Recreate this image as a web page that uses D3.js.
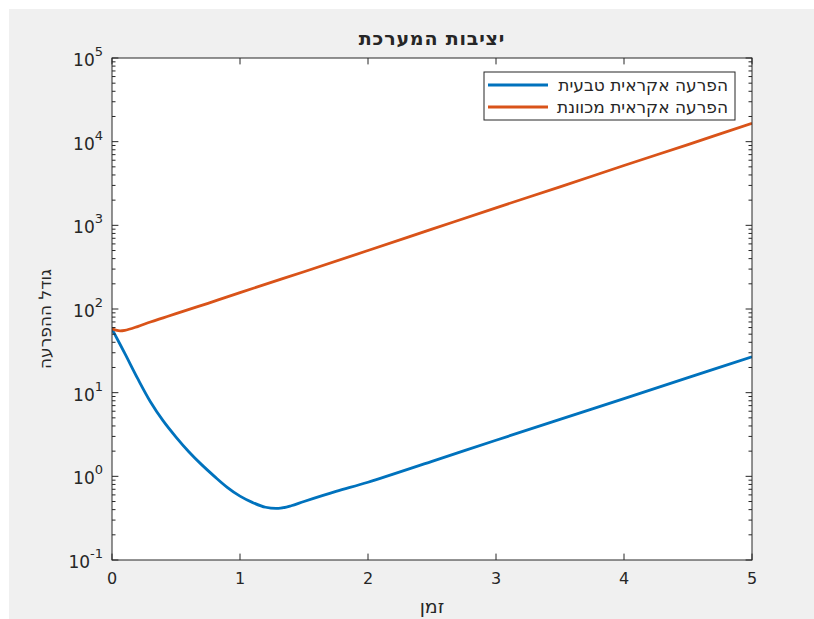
<!DOCTYPE html>
<html>
<head>
<meta charset="utf-8">
<script src="https://cdn.jsdelivr.net/npm/d3@7"></script>
<style>
  body { margin: 0; background: #fff; }
  svg text { font-family: "DejaVu Sans", sans-serif; fill: #262626; }
</style>
</head>
<body>
<script>
// Chart data
var timeBlue  = [0, 0.1, 0.2, 0.3, 0.4, 0.5, 0.6, 0.7, 0.8, 0.9, 1.0, 1.1, 1.2, 1.3, 1.4, 1.5, 1.75, 2.0, 2.5, 3.0, 3.5, 4.0, 4.5, 5.0];
var valsBlue  = [57.5, 29.5, 14.8, 7.8, 4.6, 2.95, 1.97, 1.38, 1.0, 0.74, 0.58, 0.485, 0.427, 0.414, 0.445, 0.5, 0.66, 0.85, 1.51, 2.7, 4.8, 8.5, 15.1, 26.9];
var timeOrange = [0, 0.05, 0.1, 0.2, 0.3, 0.4, 0.5, 0.75, 1.0, 1.5, 2.0, 2.5, 3.0, 3.5, 4.0, 4.5, 5.0];
var valsOrange = [58, 55, 55.6, 61.7, 70, 78.5, 88, 117, 157, 279, 500, 900, 1620, 2880, 5190, 9230, 16600];

var xTicks = [0, 1, 2, 3, 4, 5];
var yExponents = [-1, 0, 1, 2, 3, 4, 5];

var legendNames = ["הפרעה אקראית טבעית", "הפרעה אקראית מכוונת"];
var colors = ["#0072BD", "#D95319"];
var titleText = "יציבות המערכת";
var xLabel = "זמן";
var yLabel = "גודל ההפרעה";

// Chart stuff
var width = 814,
    height = 619;
// plot box (don't call these top/left, window.top is read only)
var pL = 112, pR = 752, pT = 58, pB = 560;

var svg = d3.select("body").append("svg")
    .attr("width", width)
    .attr("height", height);

svg.append("rect")
    .attr("x", 9).attr("y", 9)
    .attr("width", width - 9).attr("height", height - 9)
    .attr("fill", "#f0f0f0");

var x = d3.scaleLinear().domain([0, 5]).range([pL, pR]);
var y = d3.scaleLog().domain([0.1, 1e5]).range([pB, pT]);

// Axes box
svg.append("rect")
    .attr("x", pL).attr("y", pT)
    .attr("width", pR - pL).attr("height", pB - pT)
    .attr("fill", "#fff");

svg.append("clipPath").attr("id", "plotclip")
    .append("rect")
    .attr("x", pL).attr("y", pT)
    .attr("width", pR - pL).attr("height", pB - pT);

// Lines
var line = d3.line()
    .x(function(d) { return x(d[0]); })
    .y(function(d) { return y(d[1]); })
    .curve(d3.curveCatmullRom.alpha(0.5));

var series = [
    d3.zip(timeBlue, valsBlue),
    d3.zip(timeOrange, valsOrange)
];

svg.append("g").attr("clip-path", "url(#plotclip)")
    .selectAll("path")
    .data(series)
  .enter().append("path")
    .attr("d", line)
    .attr("fill", "none")
    .attr("stroke", function(d, i) { return colors[i]; })
    .attr("stroke-width", 2.8)
    .attr("stroke-linejoin", "round");

// Ticks (inward, on all four sides like matlab's box on)
var tickG = svg.append("g").attr("stroke", "#262626").attr("stroke-width", 1);
var majorLen = 6.4, minorLen = 3.5;

xTicks.forEach(function(t) {
    tickG.append("line").attr("x1", x(t)).attr("x2", x(t)).attr("y1", pB).attr("y2", pB - majorLen);
    tickG.append("line").attr("x1", x(t)).attr("x2", x(t)).attr("y1", pT).attr("y2", pT + majorLen);
});

yExponents.forEach(function(e) {
    var v = Math.pow(10, e);
    tickG.append("line").attr("x1", pL).attr("x2", pL + majorLen).attr("y1", y(v)).attr("y2", y(v));
    tickG.append("line").attr("x1", pR).attr("x2", pR - majorLen).attr("y1", y(v)).attr("y2", y(v));
    if (e < 5) {
        for (var m = 2; m <= 9; m++) {
            var yy = y(m * v);
            tickG.append("line").attr("x1", pL).attr("x2", pL + minorLen).attr("y1", yy).attr("y2", yy);
            tickG.append("line").attr("x1", pR).attr("x2", pR - minorLen).attr("y1", yy).attr("y2", yy);
        }
    }
});

svg.append("rect")
    .attr("x", pL).attr("y", pT)
    .attr("width", pR - pL).attr("height", pB - pT)
    .attr("fill", "none")
    .attr("stroke", "#262626")
    .attr("stroke-width", 1);

// Tick labels
svg.append("g").selectAll("text")
    .data(xTicks)
  .enter().append("text")
    .attr("x", function(d) { return x(d); })
    .attr("y", pB + 24)
    .attr("text-anchor", "middle")
    .style("font-size", "16px")
    .text(function(d) { return d; });

var yl = svg.append("g").selectAll("text")
    .data(yExponents)
  .enter().append("text")
    .attr("x", function(d) { return d < 0 ? pL - 9 : pL - 9; })
    .attr("y", function(d) { return y(Math.pow(10, d)) + 8; })
    .attr("text-anchor", "end")
    .style("font-size", "17px");
yl.append("tspan").text("10");
yl.append("tspan")
    .attr("dy", -10)
    .style("font-size", "13px")
    .text(function(d) { return d; });

// Title and axis labels
svg.append("text")
    .attr("x", (pL + pR) / 2).attr("y", 45)
    .attr("text-anchor", "middle")
    .style("font-size", "19px").style("font-weight", "bold")
    .style("letter-spacing", "0.8px")
    .text(titleText);

svg.append("text")
    .attr("x", (pL + pR) / 2).attr("y", 613)
    .attr("text-anchor", "middle")
    .style("font-size", "19px")
    .text(xLabel);

svg.append("text")
    .attr("transform", "translate(51," + ((pT + pB) / 2 + 10) + ") rotate(-90)")
    .attr("text-anchor", "middle")
    .style("font-size", "17px")
    .text(yLabel);

// Legend
var lg = svg.append("g");
lg.append("rect")
    .attr("x", 484).attr("y", 72)
    .attr("width", 251).attr("height", 48)
    .attr("fill", "#fff")
    .attr("stroke", "#262626")
    .attr("stroke-width", 1);

legendNames.forEach(function(name, i) {
    var ly = 85 + i * 22;
    lg.append("line")
        .attr("x1", 488).attr("x2", 548)
        .attr("y1", ly).attr("y2", ly)
        .attr("stroke", colors[i])
        .attr("stroke-width", 2.8);
    lg.append("text")
        .attr("x", 728).attr("y", ly + 6)
        .attr("text-anchor", "end")
        .style("font-size", "17px")
        .text(name);
});
</script>
</body>
</html>
